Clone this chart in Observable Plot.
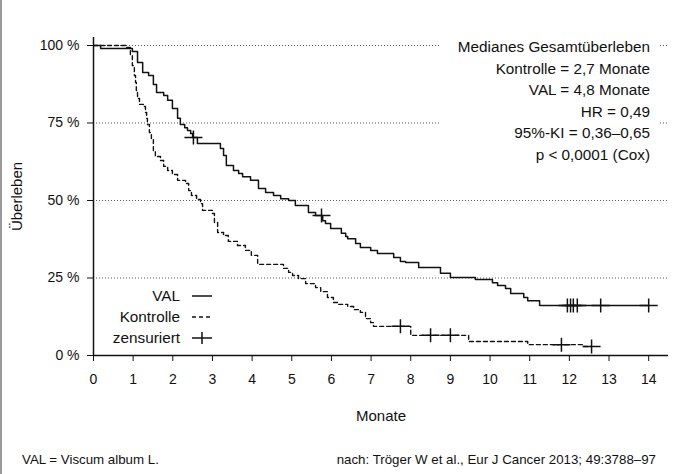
<!DOCTYPE html>
<html><head><meta charset="utf-8">
<script src="https://cdn.jsdelivr.net/npm/d3@7"></script>
<script src="https://cdn.jsdelivr.net/npm/@observablehq/plot@0.6"></script>
<style>
body{margin:0;background:#fff;font-family:"Liberation Sans",Arial,sans-serif;color:#111;}
#wrap{position:relative;width:681px;height:474px;overflow:hidden;background:#fff;}
#wrap svg{display:block;}
g[aria-label="x-axis label"], g[aria-label="y-axis label"]{font-size:15px;}
#border{position:absolute;left:0;top:0;width:2px;height:474px;background:#9a9a9a;}
#annot{position:absolute;top:36px;left:440px;width:210px;padding-right:10px;text-align:right;line-height:21.5px;font-size:15.3px;background:#fff;}
#legend{position:absolute;left:0;top:285px;font-size:15.3px;}
#legend .row{display:flex;align-items:center;height:21px;}
#legend .lab{width:180px;text-align:right;}
#legend svg{margin-left:10px;}
.foot{position:absolute;top:451px;font-size:13.3px;line-height:18px;white-space:nowrap;}
</style></head><body>
<div id="wrap"><div id="border"></div></div>
<script>
// VAL (Kaplan-Meier steps: time in months, survival in %)
const valTime = [0, 0.18, 0.98, 1.11, 1.24, 1.39, 1.51, 1.59, 1.77, 1.87, 1.99, 2.12, 2.19, 2.30, 2.37, 2.45, 2.50, 2.62, 3.20, 3.28, 3.35, 3.53, 3.66, 3.76, 3.96, 4.16, 4.34, 4.54, 4.72, 4.92, 5.09, 5.42, 5.60, 5.78, 5.85, 5.98, 6.25, 6.36, 6.41, 6.61, 6.73, 6.99, 7.16, 7.57, 7.74, 7.87, 8.20, 8.75, 9.00, 9.63, 10.06, 10.19, 10.39, 10.52, 10.85, 10.95, 11.25, 14.0];
const valSurv = [100, 99.0, 98.1, 94.5, 91.3, 90.3, 87.4, 84.8, 83.9, 82.3, 79.7, 76.5, 74.5, 73.5, 72.6, 71.6, 70.3, 68.4, 66.8, 64.5, 61.3, 59.7, 58.7, 57.7, 56.5, 53.9, 52.6, 51.6, 50.6, 50.0, 48.4, 46.1, 45.2, 43.5, 42.6, 41.0, 39.4, 38.4, 37.7, 36.1, 34.8, 33.9, 32.9, 31.6, 30.3, 30.0, 28.4, 26.5, 25.2, 24.5, 23.5, 22.6, 21.6, 20.0, 18.7, 17.7, 16.1, 16.1];
const valCensorTime = [2.52, 5.75, 11.95, 12.03, 12.10, 12.20, 12.79, 14.0];
const valCensorSurv = [70.3, 45.2, 16.1, 16.1, 16.1, 16.1, 16.1, 16.1];

// Kontrolle
const konTime = [0, 0.81, 0.93, 0.98, 1.03, 1.06, 1.08, 1.11, 1.16, 1.26, 1.31, 1.34, 1.36, 1.41, 1.46, 1.51, 1.56, 1.69, 1.77, 1.87, 1.99, 2.12, 2.32, 2.40, 2.47, 2.60, 2.70, 2.75, 3.00, 3.05, 3.13, 3.28, 3.40, 3.63, 3.83, 3.98, 4.14, 4.79, 4.92, 5.02, 5.17, 5.35, 5.60, 5.73, 5.90, 6.05, 6.18, 6.41, 6.56, 6.73, 6.86, 6.99, 7.06, 8.00, 9.46, 10.95, 12.36, 12.56];
const konSurv = [100, 99.4, 96.8, 93.5, 90.3, 88.1, 85.5, 82.9, 81.0, 80.3, 78.4, 76.5, 74.5, 71.9, 69.7, 66.1, 64.2, 62.9, 61.0, 59.7, 58.4, 56.5, 55.5, 53.2, 51.6, 50.3, 49.0, 46.8, 45.8, 42.9, 39.7, 38.7, 36.8, 35.5, 33.9, 32.3, 29.4, 28.1, 26.8, 25.8, 24.8, 23.2, 21.9, 20.6, 18.7, 17.1, 16.5, 15.8, 14.8, 13.9, 11.9, 10.6, 9.4, 6.5, 4.5, 3.5, 2.9, 2.9];
const konCensorTime = [7.74, 8.50, 9.00, 11.80, 12.56];
const konCensorSurv = [9.4, 6.5, 6.5, 3.5, 2.9];

const xTicks = [0,1,2,3,4,5,6,7,8,9,10,11,12,13,14];
const yTicks = [0,25,50,75,100];
const gridY = [25,50,75,100];

const annotLines = ["Medianes Gesamtüberleben", "Kontrolle = 2,7 Monate", "VAL = 4,8 Monate", "HR = 0,49", "95%-KI = 0,36–0,65", "p < 0,0001 (Cox)"];
const legendItems = [{label:"VAL", kind:"solid"}, {label:"Kontrolle", kind:"dashed"}, {label:"zensuriert", kind:"cross"}];
const xLabel = "Monate";
const yLabel = "Überleben";
const footLeft = "VAL = Viscum album L.";
const footRight = "nach: Tröger W et al., Eur J Cancer 2013; 49:3788–97";

const valData = valTime.map((t,i)=>({t, s: valSurv[i]}));
const konData = konTime.map((t,i)=>({t, s: konSurv[i]}));
const censors = valCensorTime.map((t,i)=>({t, s: valCensorSurv[i]}))
  .concat(konCensorTime.map((t,i)=>({t, s: konCensorSurv[i]})));

const cross = {draw(ctx){ ctx.moveTo(-9,0); ctx.lineTo(9,0); ctx.moveTo(0,-7); ctx.lineTo(0,7); }};

const chart = Plot.plot({
  width: 681, height: 440,
  marginLeft: 93, marginRight: 13, marginTop: 37, marginBottom: 85,
  style: {fontFamily: "'Liberation Sans', Arial, sans-serif", fontSize: "14px", color: "#111", background: "transparent"},
  x: {domain: [0, 14.5]},
  y: {domain: [0, 102.58]},
  marks: [
    Plot.ruleY(gridY, {stroke: "#555", strokeDasharray: "1,2", strokeWidth: 1}),
    Plot.axisX({ticks: xTicks, tickSize: 6, tickPadding: 13, label: xLabel, labelAnchor: "center", labelArrow: "none", labelOffset: 65}),
    Plot.axisY({ticks: yTicks, tickSize: 6, tickPadding: 8, tickFormat: d => d + " %", label: yLabel, labelAnchor: "center", labelArrow: "none", labelOffset: 82}),
    Plot.ruleX([0], {stroke: "#111", strokeWidth: 1.5}),
    Plot.ruleY([0], {stroke: "#111", strokeWidth: 1.5}),
    Plot.line(konData, {x: "t", y: "s", curve: "step-after", stroke: "#111", strokeWidth: 1.4, strokeDasharray: "4,3"}),
    Plot.line(valData, {x: "t", y: "s", curve: "step-after", stroke: "#111", strokeWidth: 1.5}),
    Plot.dot(censors, {x: "t", y: "s", symbol: cross, stroke: "#111", strokeWidth: 1.5, fill: "none"})
  ]
});
const wrap = document.getElementById("wrap");
wrap.appendChild(chart);

const annot = document.createElement("div");
annot.id = "annot";
annot.innerHTML = annotLines.map(l => `<div>${l.replace("<","&lt;")}</div>`).join("");
wrap.appendChild(annot);

const legend = document.createElement("div");
legend.id = "legend";
legend.innerHTML = legendItems.map(it => {
  let g = "";
  if (it.kind === "solid") g = `<line x1="2" x2="22" y1="7" y2="7" stroke="#111" stroke-width="1.5"/>`;
  if (it.kind === "dashed") g = `<line x1="2" x2="22" y1="7" y2="7" stroke="#111" stroke-width="1.4" stroke-dasharray="4,3"/>`;
  if (it.kind === "cross") g = `<line x1="2" x2="22" y1="7" y2="7" stroke="#111" stroke-width="1.5"/><line x1="12" x2="12" y1="1" y2="13" stroke="#111" stroke-width="1.5"/>`;
  return `<div class="row"><span class="lab">${it.label}</span><svg width="24" height="14">${g}</svg></div>`;
}).join("");
wrap.appendChild(legend);

const fl = document.createElement("div");
fl.className = "foot"; fl.style.left = "22px"; fl.textContent = footLeft;
wrap.appendChild(fl);
const fr = document.createElement("div");
fr.className = "foot"; fr.style.right = "25px"; fr.textContent = footRight;
wrap.appendChild(fr);
</script>
</body></html>
